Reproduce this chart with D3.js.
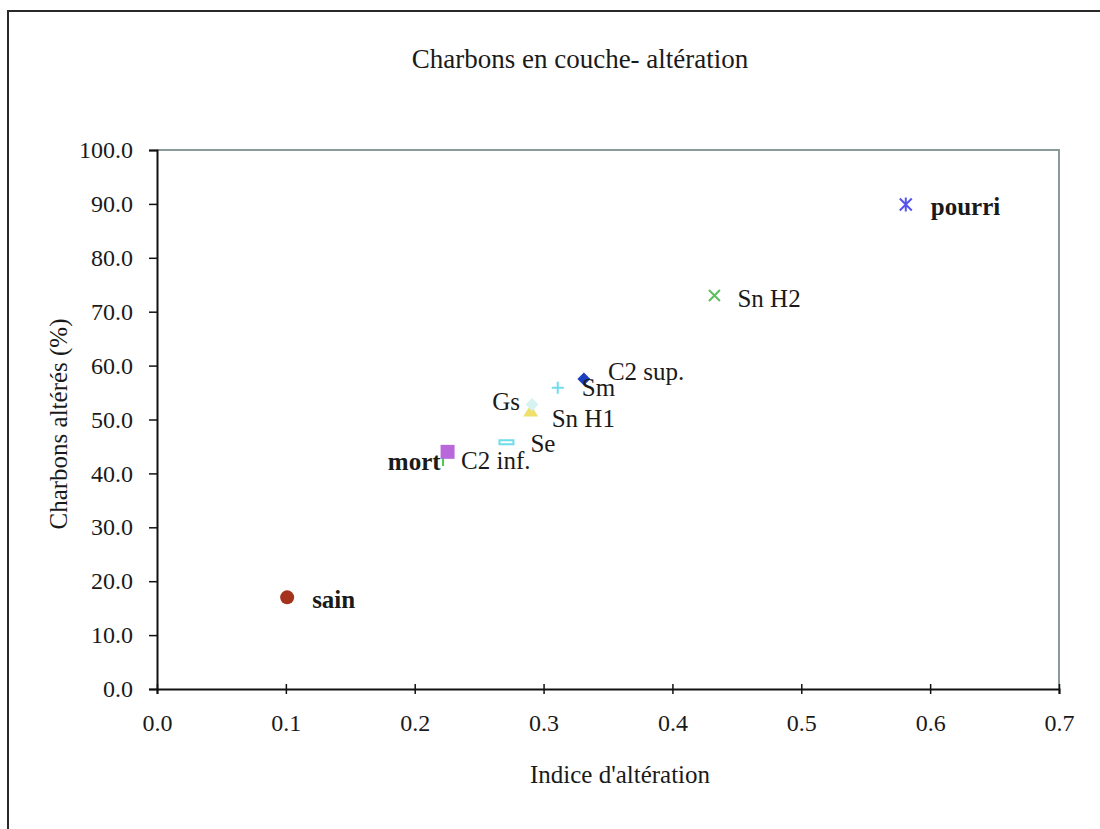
<!DOCTYPE html>
<html>
<head>
<meta charset="utf-8">
<script src="https://cdn.jsdelivr.net/npm/d3@7"></script>
<style>
  html, body { margin: 0; padding: 0; background: #fff; }
  svg { display: block; }
  text { font-family: "Liberation Serif", "Times New Roman", serif; fill: #1a1a1a; }
</style>
</head>
<body>
<div id="chart"></div>
<script>
// ---- data ----
const names   = ["sain", "C2 inf.", "mort", "Se", "Sn H1", "Gs", "Sm", "C2 sup.", "Sn H2", "pourri"];
const xValues = [0.101, 0.222, 0.2255, 0.2712, 0.290, 0.291, 0.311, 0.3313, 0.4326, 0.5811];
const yValues = [17.0, 42.3, 44.0, 45.8, 51.4, 52.8, 55.9, 57.5, 73.0, 89.9];
const boldNames = ["sain", "mort", "pourri"];
const xTicks = [0, 0.1, 0.2, 0.3, 0.4, 0.5, 0.6, 0.7];
const yTicks = [0, 10, 20, 30, 40, 50, 60, 70, 80, 90, 100];
const titleText = "Charbons en couche- altération";
const xTitle = "Indice d'altération";
const yTitle = "Charbons altérés (%)";

// ---- styles (marker type, colour, label offsets) ----
const markerStyle = {
  "sain":    {type: "circle",   color: "#a5321c", size: 7},
  "C2 inf.": {type: "vline",    color: "#4cc84c", size: 5},
  "mort":    {type: "square",   color: "#b968dc", size: 7},
  "Se":      {type: "dash",     color: "#6fdcea", size: 7},
  "Sn H1":   {type: "triangle", color: "#eee06a", size: 7.5},
  "Gs":      {type: "diamond",  color: "#d6f2f2", size: 6.5},
  "Sm":      {type: "plus",     color: "#72dcec", size: 6},
  "C2 sup.": {type: "diamond",  color: "#1c3fbf", size: 6.5},
  "Sn H2":   {type: "x",        color: "#5cbf5c", size: 5.5},
  "pourri":  {type: "asterisk", color: "#5555ee", size: 6}
};
const labelPos = {
  "sain":    {dx: 25,  dy: 11, anchor: "start"},
  "C2 inf.": {dx: 18,  dy: 8,  anchor: "start"},
  "mort":    {dx: -7,  dy: 18, anchor: "end"},
  "Se":      {dx: 24,  dy: 10, anchor: "start"},
  "Sn H1":   {dx: 21,  dy: 15, anchor: "start"},
  "Gs":      {dx: -12, dy: 6,  anchor: "end"},
  "Sm":      {dx: 24,  dy: 8,  anchor: "start"},
  "C2 sup.": {dx: 24,  dy: 1,  anchor: "start"},
  "Sn H2":   {dx: 23,  dy: 11, anchor: "start"},
  "pourri":  {dx: 25,  dy: 11, anchor: "start"}
};

const W = 1100, H = 829;
const svg = d3.select("#chart").append("svg").attr("width", W).attr("height", H);
svg.append("rect").attr("width", W).attr("height", H).attr("fill", "#fff");

// outer frame (chart area border)
svg.append("path")
  .attr("d", "M8,829 L8,11 L1100,11")
  .attr("fill", "none").attr("stroke", "#2a2a2a").attr("stroke-width", 2);

const plot = {left: 157, right: 1059, top: 150, bottom: 689};
const x = d3.scaleLinear().domain([0, 0.7]).range([plot.left, plot.right]);
const y = d3.scaleLinear().domain([0, 100]).range([plot.bottom, plot.top]);

// plot area top/right border (grey)
svg.append("path")
  .attr("d", `M${plot.left},${plot.top} L${plot.right},${plot.top} L${plot.right},${plot.bottom}`)
  .attr("fill", "none").attr("stroke", "#8a9a9a").attr("stroke-width", 2);

// y axis
const yAxis = d3.axisLeft(y).tickValues(yTicks).tickFormat(d3.format(".1f")).tickSize(8).tickPadding(16);
const gy = svg.append("g").attr("transform", `translate(${plot.left},0)`).call(yAxis);
gy.select(".domain").attr("stroke", "#111").attr("stroke-width", 2);
gy.selectAll(".tick line").attr("stroke", "#111").attr("stroke-width", 1.5);
gy.selectAll(".tick text").attr("font-size", 24).attr("font-family", "Liberation Serif").attr("fill", "#1a1a1a");

// x axis (ticks crossing)
const xAxis = d3.axisBottom(x).tickValues(xTicks).tickFormat(d3.format(".1f")).tickSize(5).tickPadding(20);
const gx = svg.append("g").attr("transform", `translate(0,${plot.bottom})`).call(xAxis);
gx.select(".domain").attr("stroke", "#111").attr("stroke-width", 2);
gx.selectAll(".tick line").attr("y1", -5).attr("stroke", "#111").attr("stroke-width", 1.5);
gx.selectAll(".tick text").attr("font-size", 24).attr("font-family", "Liberation Serif").attr("fill", "#1a1a1a");

// titles
svg.append("text").attr("x", 580).attr("y", 68).attr("text-anchor", "middle")
  .attr("font-size", 27).text(titleText);
svg.append("text").attr("x", 620).attr("y", 783).attr("text-anchor", "middle")
  .attr("font-size", 25).text(xTitle);
svg.append("text").attr("transform", "translate(67,424) rotate(-90)").attr("text-anchor", "middle")
  .attr("font-size", 25).text(yTitle);

// marker path generator
function markerPath(type, s) {
  switch (type) {
    case "square":   return `M${-s},${-s}H${s}V${s}H${-s}Z`;
    case "diamond":  return `M0,${-s}L${s},0L0,${s}L${-s},0Z`;
    case "triangle": return `M0,${-s}L${s},${s*0.6}L${-s},${s*0.6}Z`;
    case "dash":     return `M${-s},-2H${s}V2H${-s}Z`;
    case "plus":     return `M${-s},0H${s}M0,${-s}V${s}`;
    case "x":        return `M${-s},${-s}L${s},${s}M${-s},${s}L${s},${-s}`;
    case "asterisk": return `M${-s},${-s}L${s},${s}M${-s},${s}L${s},${-s}M0,${-s-1}V${s+1}`;
    case "vline":    return `M0,${-s}V${s}`;
  }
  return "";
}

const data = names.map((n, i) => ({name: n, x: xValues[i], y: yValues[i]}));

const marks = svg.append("g");
data.forEach(d => {
  const st = markerStyle[d.name];
  const cx = x(d.x), cy = y(d.y);
  if (st.type === "circle") {
    marks.append("circle").attr("cx", cx).attr("cy", cy).attr("r", st.size).attr("fill", st.color);
  } else {
    const filled = ["square", "diamond", "triangle"].includes(st.type);
    const p = marks.append("path")
      .attr("transform", `translate(${cx},${cy})`)
      .attr("d", markerPath(st.type, st.size));
    if (filled) p.attr("fill", st.color).attr("stroke", "none");
    else if (st.type === "dash") p.attr("fill", "#fff").attr("stroke", st.color).attr("stroke-width", 2);
    else p.attr("fill", "none").attr("stroke", st.color).attr("stroke-width", 2);
  }
});

// labels
const labels = svg.append("g");
data.forEach(d => {
  const lp = labelPos[d.name];
  labels.append("text")
    .attr("x", x(d.x) + lp.dx).attr("y", y(d.y) + lp.dy)
    .attr("text-anchor", lp.anchor)
    .attr("font-size", 25)
    .attr("font-weight", boldNames.includes(d.name) ? "bold" : "normal")
    .text(d.name);
});
</script>
</body>
</html>
